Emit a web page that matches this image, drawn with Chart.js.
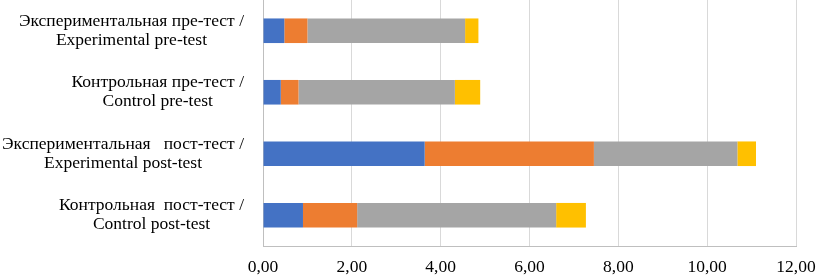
<!DOCTYPE html>
<html>
<head>
<meta charset="utf-8">
<script src="https://cdn.jsdelivr.net/npm/chart.js@4"></script>
<style>
  html, body { margin: 0; padding: 0; background: #fff; }
  #wrap { width: 816px; height: 276px; position: relative; }
</style>
</head>
<body>
<div id="wrap"><canvas id="chart"></canvas></div>
<script>
(function () {
    'use strict';

    // categories, top to bottom; each label is two lines
    var CATEGORIES = [
        ['Экспериментальная пре-тест /', 'Experimental pre-test'],
        ['Контрольная пре-тест /', 'Control pre-test'],
        ['Экспериментальная   пост-тест /', 'Experimental post-test'],
        ['Контрольная  пост-тест /', 'Control post-test']
    ];

    // stacked segments
    var SERIES_1 = [0.48, 0.40, 3.64, 0.90];
    var SERIES_2 = [0.52, 0.40, 3.81, 1.22];
    var SERIES_3 = [3.55, 3.52, 3.23, 4.48];
    var SERIES_4 = [0.30, 0.57, 0.42, 0.67];

    var X_MIN = 0;
    var X_MAX = 12;
    var X_STEP = 2;

    var FONT = '"Liberation Serif", "Times New Roman", serif';
    var FONT_SIZE = 17.5;

    function fmt(v) {
        return v.toFixed(2).replace('.', ',');
    }

    // category labels: block right-aligned to the axis, lines centred in the block
    var catLabels = {
        id: 'catLabels',
        afterDraw: function (chart) {
            var y = chart.scales.y;
            var ctx = chart.ctx;
            ctx.save();
            ctx.font = FONT_SIZE + 'px ' + FONT;
            ctx.fillStyle = '#000';
            ctx.textBaseline = 'middle';
            ctx.textAlign = 'center';
            var lineH = 19;
            for (var i = 0; i < CATEGORIES.length; i++) {
                var lines = CATEGORIES[i];
                var w = 0;
                for (var k = 0; k < lines.length; k++) {
                    w = Math.max(w, ctx.measureText(lines[k]).width);
                }
                var right = y.right - 19;
                var cx = right - w / 2;
                var cy = y.getPixelForTick(i);
                var top = cy - (lines.length - 1) * lineH / 2;
                for (var j = 0; j < lines.length; j++) {
                    ctx.fillText(lines[j], cx, top + j * lineH);
                }
            }
            ctx.restore();
        }
    };

    new Chart(document.getElementById('chart'), {
        type: 'bar',
        data: {
            labels: CATEGORIES,
            datasets: [
                { label: 'Ряд 1', data: SERIES_1, backgroundColor: '#4472C4' },
                { label: 'Ряд 2', data: SERIES_2, backgroundColor: '#ED7D31' },
                { label: 'Ряд 3', data: SERIES_3, backgroundColor: '#A5A5A5' },
                { label: 'Ряд 4', data: SERIES_4, backgroundColor: '#FFC000' }
            ]
        },
        options: {
            indexAxis: 'y',
            responsive: true,
            maintainAspectRatio: false,
            animation: false,
            datasets: {
                bar: { barPercentage: 0.4, categoryPercentage: 1.0, borderWidth: 0 }
            },
            layout: { padding: { top: 0, right: 0, bottom: 0, left: 0 } },
            plugins: {
                legend: { display: false },
                tooltip: { enabled: false }
            },
            scales: {
                x: {
                    stacked: true,
                    min: X_MIN,
                    max: X_MAX,
                    ticks: {
                        stepSize: X_STEP,
                        color: '#000',
                        font: { family: FONT, size: FONT_SIZE },
                        padding: 11,
                        maxRotation: 0,
                        callback: function (v) { return fmt(v); }
                    },
                    grid: { color: '#d9d9d9', drawTicks: false, lineWidth: 1 },
                    border: { display: true, color: '#bfbfbf' },
                    afterFit: function (scale) {
                        scale.height = 30;
                        scale.paddingLeft = 0;
                        scale.paddingRight = 20;
                    }
                },
                y: {
                    stacked: true,
                    ticks: { display: false },
                    grid: { display: false, drawTicks: false },
                    border: { display: true, color: '#bfbfbf' },
                    afterFit: function (scale) { scale.width = 263; }
                }
            }
        },
        plugins: [catLabels]
    });
})();
</script>
</body>
</html>
